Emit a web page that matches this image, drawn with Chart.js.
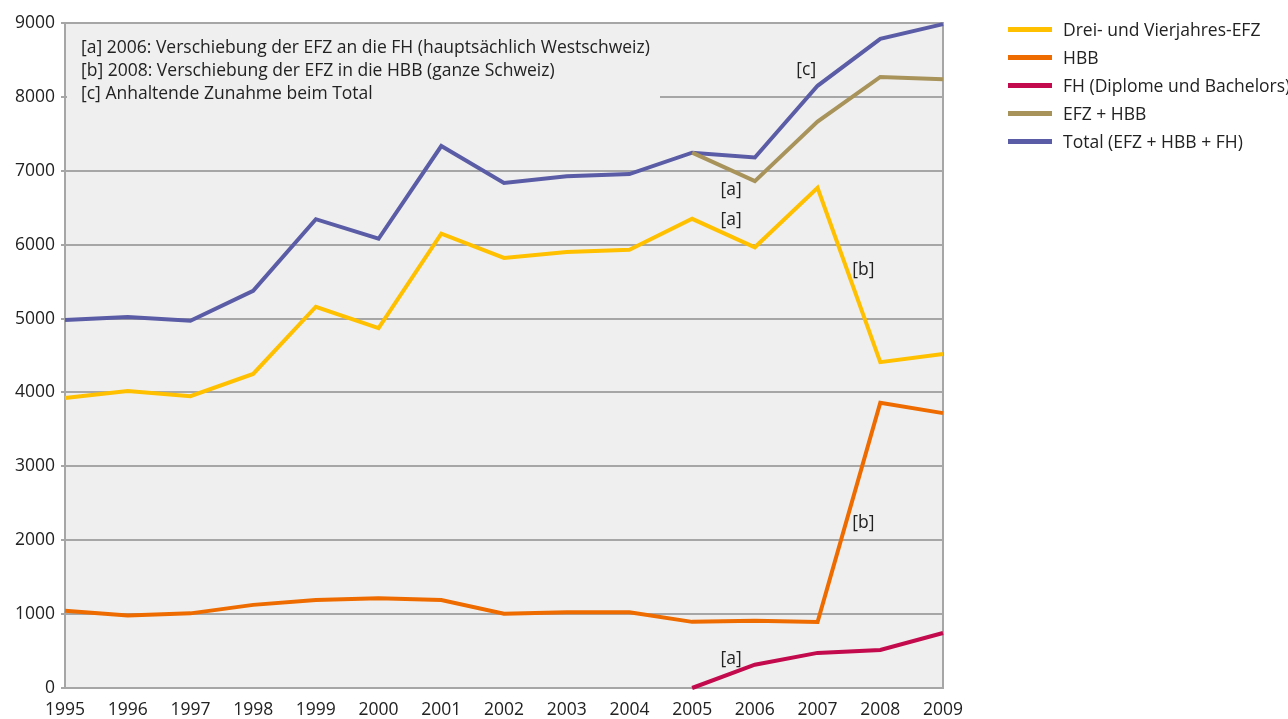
<!DOCTYPE html>
<html lang="de">
<head>
  <meta charset="UTF-8">
  <title>EFZ, HBB, FH 1995–2009</title>
  <script src="https://cdn.jsdelivr.net/npm/chart.js"></script>
  <style>
    * { box-sizing:border-box; }
    body { margin:0; background:#fff; font-family:'Open Sans', sans-serif; }
    #wrap { position:relative; width:1288px; height:719px; overflow:hidden; }
    #legend { position:absolute; left:1008px; top:15px; width:300px; }
    .leg-item { display:flex; align-items:center; height:28px; font-size:17.5px; color:#222; white-space:nowrap; }
    .leg-line { flex:none; width:44px; height:5px; margin-right:11px; }
  </style>
</head>
<body>
<div id="wrap">
  <canvas id="chart" width="1288" height="719"></canvas>
  <div id="legend"></div>
</div>

<script>
  // Jahre
  const years = ['1995','1996','1997','1998','1999','2000','2001','2002','2003','2004','2005','2006','2007','2008','2009'];

  // Reihen (Anzahl Abschlüsse)
  const efz    = [3925, 4020, 3950, 4250, 5160, 4870, 6150, 5820, 5900, 5930, 6350, 5965, 6770, 4410, 4520];
  const hbb    = [1045,  980, 1010, 1125, 1190, 1215, 1190, 1005, 1025, 1025,  895,  910,  893, 3860, 3720];
  const fh     = [null, null, null, null, null, null, null, null, null, null,    0,  315,  475,  515,  745];
  const efzHbb = [null, null, null, null, null, null, null, null, null, null, 7245, 6860, 7665, 8270, 8240];
  const total  = [4980, 5020, 4970, 5375, 6345, 6080, 7335, 6835, 6925, 6955, 7245, 7180, 8150, 8785, 8985];

  const seriesNames  = ['Drei- und Vierjahres-EFZ', 'HBB', 'FH (Diplome und Bachelors)', 'EFZ + HBB', 'Total (EFZ + HBB + FH)'];
  const seriesData   = [efz, hbb, fh, efzHbb, total];
  const seriesColors = ['#ffc000', '#ee6b00', '#c20a4c', '#a8935a', '#5b5ca6'];

  const yTicks = [0, 1000, 2000, 3000, 4000, 5000, 6000, 7000, 8000, 9000];

  // Hinweise im Diagramm
  const noteLines = [
    '[a] 2006: Verschiebung der EFZ an die FH (hauptsächlich Westschweiz)',
    '[b] 2008: Verschiebung der EFZ in die HBB (ganze Schweiz)',
    '[c] Anhaltende Zunahme beim Total'
  ];
  // [Text, Jahr-Index (dezimal), Wert]
  const markers = [
    ['[c]', 11.82, 8370],
    ['[a]', 10.62, 6740],
    ['[a]', 10.62, 6330],
    ['[b]', 12.73, 5660],
    ['[b]', 12.73, 2235],
    ['[a]', 10.62, 390]
  ];

  const GRID = '#a6a6a6';
  const TXT = '#222';
  const FONT = "'Open Sans', sans-serif";

  // Legende
  const legend = document.getElementById('legend');
  seriesNames.forEach((n, i) => {
    const row = document.createElement('div');
    row.className = 'leg-item';
    row.innerHTML = `<span class="leg-line" style="background:${seriesColors[i]}"></span><span>${n}</span>`;
    legend.appendChild(row);
  });

  const plotBg = {
    id: 'plotBg',
    beforeDraw(chart) {
      const { ctx, chartArea: a } = chart;
      ctx.save();
      ctx.fillStyle = '#efefef';
      ctx.fillRect(a.left, a.top, a.right - a.left, a.bottom - a.top);
      ctx.restore();
    },
    beforeDatasetsDraw(chart) {
      const { ctx, chartArea: a } = chart;
      ctx.save();
      // Rahmen oben und rechts
      ctx.strokeStyle = GRID;
      ctx.lineWidth = 2;
      ctx.beginPath();
      ctx.moveTo(a.left, a.top);
      ctx.lineTo(a.right, a.top);
      ctx.lineTo(a.right, a.bottom);
      ctx.stroke();
      // Notizkasten verdeckt die Gitterlinie
      ctx.fillStyle = '#efefef';
      ctx.fillRect(a.left + 2, a.top + 8, 595 - 2, 76);
      ctx.fillStyle = TXT;
      ctx.font = `17.5px ${FONT}`;
      ctx.textBaseline = 'middle';
      noteLines.forEach((t, i) => ctx.fillText(t, a.left + 16, a.top + 25 + i * 23));
      ctx.restore();
    },
    afterDatasetsDraw(chart) {
      const { ctx } = chart;
      const xs = chart.scales.x, ys = chart.scales.y;
      ctx.save();
      ctx.fillStyle = TXT;
      ctx.font = `17.5px ${FONT}`;
      ctx.textAlign = 'center';
      ctx.textBaseline = 'middle';
      markers.forEach(([t, xi, v]) => ctx.fillText(t, xs.getPixelForValue(xi), ys.getPixelForValue(v)));
      ctx.restore();
    }
  };

  new Chart(document.getElementById('chart'), {
    type: 'line',
    data: {
      labels: years,
      datasets: seriesNames.map((n, i) => ({
        label: n,
        data: seriesData[i],
        borderColor: seriesColors[i],
        backgroundColor: seriesColors[i],
        borderWidth: 4,
        pointRadius: 0,
        tension: 0,
        borderJoinStyle: 'miter',
        spanGaps: false,
        clip: 6
      }))
    },
    options: {
      responsive: false,
      animation: false,
      layout: { padding: { top: 23, right: 345, left: 0, bottom: 0 } },
      plugins: { legend: { display: false }, tooltip: { enabled: false } },
      scales: {
        x: {
          type: 'category',
          offset: false,
          grid: { display: false },
          border: { display: true, color: GRID, width: 2 },
          ticks: { color: TXT, font: { size: 17.5, family: FONT }, padding: 4, maxRotation: 0, autoSkip: false },
          afterFit(s) { s.height = 31; }
        },
        y: {
          min: 0, max: 9000,
          afterBuildTicks(s) { s.ticks = yTicks.map(v => ({ value: v })); },
          grid: { color: GRID, lineWidth: 2, tickLength: 4 },
          border: { display: true, color: GRID, width: 2 },
          ticks: { color: TXT, font: { size: 17.5, family: FONT }, padding: 6, callback: v => String(v) },
          afterFit(s) { s.width = 65; }
        }
      }
    },
    plugins: [plotBg]
  });
</script>
</body>
</html>
